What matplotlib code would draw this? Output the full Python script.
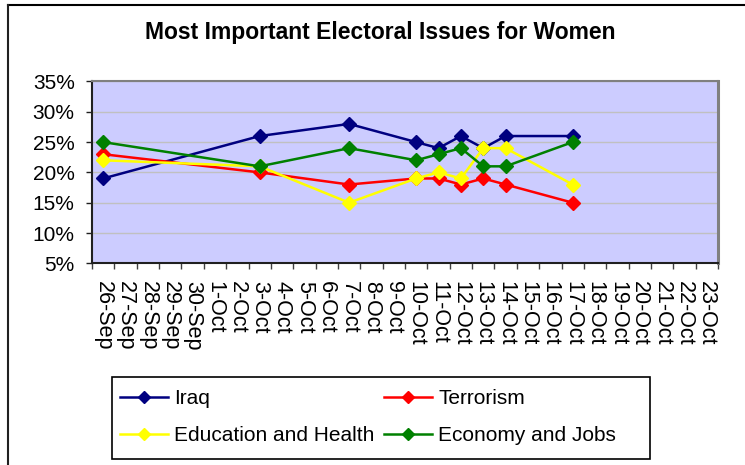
import matplotlib
matplotlib.use("Agg")
import matplotlib.pyplot as plt
from matplotlib.lines import Line2D
from matplotlib.patches import Rectangle
from matplotlib.ticker import FixedLocator, PercentFormatter

plt.rcParams['font.family'] = ['Liberation Sans', 'DejaVu Sans']

# --- Datos ---
date_labels = ['26-Sep', '27-Sep', '28-Sep', '29-Sep', '30-Sep', '1-Oct', '2-Oct',
               '3-Oct', '4-Oct', '5-Oct', '6-Oct', '7-Oct', '8-Oct', '9-Oct',
               '10-Oct', '11-Oct', '12-Oct', '13-Oct', '14-Oct', '15-Oct', '16-Oct',
               '17-Oct', '18-Oct', '19-Oct', '20-Oct', '21-Oct', '22-Oct', '23-Oct']
poll_dates = ['26-Sep', '3-Oct', '7-Oct', '10-Oct', '11-Oct', '12-Oct', '13-Oct', '14-Oct', '17-Oct']

iraq = [19, 26, 28, 25, 24, 26, 24, 26, 26]
terrorism = [23, 20, 18, 19, 19, 18, 19, 18, 15]
education_health = [22, 21, 15, 19, 20, 19, 24, 24, 18]
economy_jobs = [25, 21, 24, 22, 23, 24, 21, 21, 25]

series_names = ['Iraq', 'Terrorism', 'Education and Health', 'Economy and Jobs']
series_colors = ['#000080', '#FF0000', '#FFFF00', '#008000']

fig = plt.figure(figsize=(7.45, 4.65), dpi=100)
ax = fig.add_axes([92 / 745, 1 - 263.3 / 465, 626 / 745, 181.8 / 465])
ax.set_facecolor('#CCCCFF')

x_pos = [date_labels.index(d) for d in poll_dates]
lines = []
for values, name, color in zip([iraq, terrorism, education_health, economy_jobs],
                               series_names, series_colors):
    ln, = ax.plot(x_pos, values, color=color, lw=1.8, marker='D', markersize=7,
                  markeredgecolor=color, label=name, zorder=3)
    lines.append(ln)

# --- Ejes ---
ax.set_xlim(-0.5, len(date_labels) - 0.5)
ax.set_ylim(5, 35)
ax.set_yticks(range(5, 36, 5))
ax.yaxis.set_major_formatter(PercentFormatter(decimals=0))
ax.grid(axis='y', color='#C0C0C0', lw=1, zorder=0)
ax.set_axisbelow(True)

ax.set_xticks(range(len(date_labels)))
ax.set_xticklabels(date_labels, rotation=-90, va='top', ha='center')
ax.xaxis.set_minor_locator(FixedLocator([i - 0.5 for i in range(len(date_labels) + 1)]))
ax.tick_params(axis='x', which='major', length=0, pad=13, labelsize=15.5)
ax.tick_params(axis='x', which='minor', length=4, width=1, color='#404040', direction='out')
ax.tick_params(axis='y', length=4, width=1, color='#202020', pad=8.5, labelsize=15)

ax.spines['left'].set_color('#202020')
ax.spines['bottom'].set_color('#202020')
ax.spines['left'].set_linewidth(1.5)
ax.spines['bottom'].set_linewidth(1.5)
ax.spines['top'].set_color('#808080')
ax.spines['top'].set_linewidth(1.5)
ax.spines['right'].set_color('#808080')
ax.spines['right'].set_linewidth(2.2)

fig.text(380 / 745, 1 - 33 / 465, 'Most Important Electoral Issues for Women',
         ha='center', va='center', fontsize=16.5, fontweight='bold')

# leyenda en dos columnas: Iraq / Terrorism arriba, Education / Economy abajo
order = [0, 2, 1, 3]
leg = fig.legend([lines[i] for i in order], [series_names[i] for i in order],
                 loc='upper left', bbox_to_anchor=(112 / 745, 1 - 381 / 465),
                 ncol=2, numpoints=1, fontsize=15, frameon=False,
                 handlelength=2.3, handletextpad=0.3, columnspacing=0.45,
                 labelspacing=0.85, borderpad=0.4, borderaxespad=0)
for h in leg.legend_handles:
    h.set_markersize(6)

# marco de la leyenda dibujado aparte para fijar su tamaño
fig.add_artist(Rectangle((112 / 745, 1 - 459 / 465), 538 / 745, 82 / 465,
                         transform=fig.transFigure, fill=False, edgecolor='black', lw=1.2))

# borde exterior del área del gráfico
fig.add_artist(Line2D([8 / 745, 1], [1 - 5 / 465, 1 - 5 / 465], color='black', lw=1.5))
fig.add_artist(Line2D([8 / 745, 8 / 745], [0, 1 - 5 / 465], color='#202020', lw=1.5))

fig.savefig('out.png', dpi=100)
